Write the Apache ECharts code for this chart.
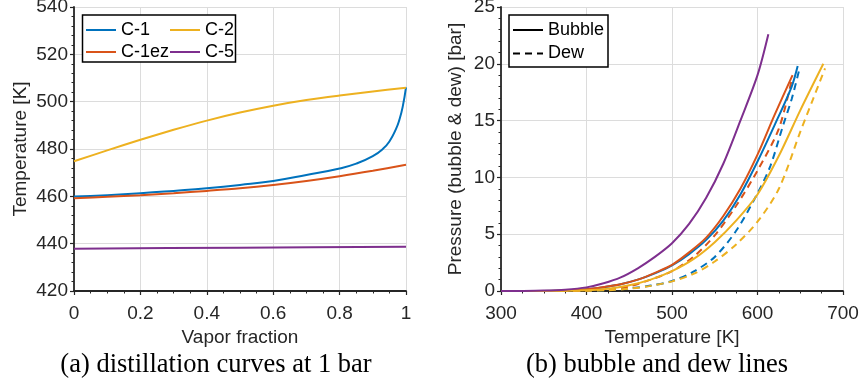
<!DOCTYPE html>
<html>
<head>
<meta charset="utf-8">
<script src="https://cdn.jsdelivr.net/npm/echarts@6/dist/echarts.min.js"></script>
<style>
  html, body { margin: 0; padding: 0; background: #fff; }
  #chart { width: 859px; height: 385px; }
</style>
</head>
<body>
<div id="chart"></div>
<script>
// (a) distillation curves at 1 bar
const fracGrid = [0, 0.1, 0.2, 0.3, 0.4, 0.5, 0.6, 0.7, 0.8, 0.9, 1.0];
const fracC1 = [0, 0.1, 0.2, 0.3, 0.4, 0.5, 0.6, 0.7, 0.8, 0.85, 0.9, 0.93, 0.95, 0.97, 0.98, 0.99, 1.0];
const tempC1 = [459.9, 460.5, 461.3, 462.3, 463.4, 464.8, 466.5, 469.0, 471.8, 473.8, 477.0, 480.0, 483.2, 488.5, 492.3, 497.8, 506.0];
const tempC1ez = [459.2, 459.8, 460.5, 461.3, 462.3, 463.4, 464.8, 466.5, 468.5, 470.8, 473.3];
const tempC2 = [474.8, 479.4, 483.9, 488.1, 492.0, 495.4, 498.3, 500.7, 502.6, 504.3, 505.9];
const fracC5 = [0, 0.5, 1.0];
const tempC5 = [437.9, 438.3, 438.7];

// (b) bubble and dew lines
const c1BubT = [300, 350, 375, 400, 420, 440, 460, 480, 500, 520, 540, 560, 580, 600, 620, 640, 647];
const c1BubP = [0, 0.01, 0.05, 0.15, 0.34, 0.6, 1.0, 1.55, 2.25, 3.25, 4.5, 6.2, 8.5, 11.4, 14.6, 18.0, 19.8];
const c1ezBubT = [300, 350, 375, 400, 420, 440, 460, 480, 500, 520, 540, 560, 580, 600, 620, 641];
const c1ezBubP = [0, 0.01, 0.05, 0.15, 0.35, 0.6, 1.0, 1.6, 2.3, 3.4, 4.7, 6.6, 9.0, 12.0, 15.5, 19.0];
const c2BubT = [300, 350, 400, 425, 450, 475, 500, 525, 550, 575, 600, 625, 650, 677];
const c2BubP = [0, 0.005, 0.07, 0.2, 0.5, 1.0, 1.75, 2.8, 4.3, 6.2, 8.5, 11.9, 15.9, 20.0];
const c5BubT = [300, 325, 350, 375, 400, 420, 440, 460, 480, 500, 520, 540, 560, 580, 600, 612.7];
const c5BubP = [0, 0.01, 0.04, 0.12, 0.32, 0.68, 1.2, 2.0, 3.0, 4.2, 5.9, 8.2, 11.2, 15.0, 19.0, 22.6];
const c1DewT = [300, 400, 425, 450, 475, 500, 525, 550, 575, 600, 615, 630, 640, 649.5];
const c1DewP = [0, 0.02, 0.08, 0.22, 0.48, 0.88, 1.7, 3.0, 5.3, 8.6, 11.0, 14.6, 16.9, 19.7];
const c1ezDewT = [300, 375, 400, 425, 450, 475, 500, 525, 550, 575, 600, 625, 640];
const c1ezDewP = [0, 0.01, 0.04, 0.15, 0.4, 1.0, 1.75, 3.0, 4.9, 7.5, 10.6, 14.3, 18.6];
const c2DewT = [300, 400, 425, 450, 475, 500, 525, 550, 575, 600, 625, 650, 665, 679];
const c2DewP = [0, 0.02, 0.07, 0.2, 0.45, 0.85, 1.5, 2.6, 4.1, 6.1, 9.0, 14.0, 16.9, 19.6];

const xTicksA = [0, 1, 0.2];
const yTicksA = [420, 540, 20];
const xTicksB = [300, 700, 100];
const yTicksB = [0, 25, 5];

const BLUE = '#0072BD', ORANGE = '#D95319', YELLOW = '#EDB120', PURPLE = '#7E2F8E';
const INK = '#262626';

function zip(xs, ys) {
    return xs.map(function (x, i) { return [x, ys[i]]; });
}

function makeAxis(grid, ticks, name, gap, minorSplit, labelMargin) {
    return {
        gridIndex: grid,
        type: 'value',
        min: ticks[0], max: ticks[1], interval: ticks[2],
        name: name,
        nameLocation: 'middle',
        nameGap: gap,
        nameTextStyle: { fontSize: 19, color: INK, fontFamily: 'Liberation Sans' },
        axisLine: { show: true, onZero: false, lineStyle: { color: INK, width: 1.8 } },
        axisTick: { show: true, length: 4, lineStyle: { color: INK, width: 1.2 } },
        minorTick: { show: true, splitNumber: minorSplit, length: 2.5, lineStyle: { color: INK, width: 1 } },
        splitLine: { show: true, lineStyle: { color: '#dcdcdc', width: 1 } },
        axisLabel: { fontSize: 19, color: INK, margin: labelMargin, showMinLabel: true, showMaxLabel: true,
                     fontFamily: 'Liberation Sans' }
    };
}

function curve(name, xi, yi, data, color, dashed, smooth) {
    return {
        name: name,
        type: 'line',
        xAxisIndex: xi, yAxisIndex: yi,
        data: data,
        symbol: 'none',
        smooth: smooth || 0.3,
        clip: true,
        lineStyle: { color: color, width: 2, type: dashed ? [7, 5] : 'solid' },
        itemStyle: { color: color }
    };
}

const chart = echarts.init(document.getElementById('chart'));
const legendText = { fontSize: 18, color: '#000', fontFamily: 'Liberation Sans' };
const legendBase = { orient: 'vertical', padding: 0, itemWidth: 30, itemHeight: 12,
                     itemStyle: { opacity: 0 }, textStyle: legendText };

chart.setOption({
    animation: false,
    textStyle: { fontFamily: 'Liberation Sans' },
    title: [
        { text: '(a) distillation curves at 1 bar', left: 211, top: 347, textAlign: 'center',
          textStyle: { fontFamily: 'Liberation Serif', fontSize: 26.5, fontWeight: 'normal', color: '#000' } },
        { text: '(b) bubble and dew lines', left: 652, top: 347, textAlign: 'center',
          textStyle: { fontFamily: 'Liberation Serif', fontSize: 26.5, fontWeight: 'normal', color: '#000' } }
    ],
    grid: [
        { left: 74, top: 7, width: 332, height: 284, outerBoundsMode: 'none' },
        { left: 501, top: 7, width: 342, height: 284, outerBoundsMode: 'none' }
    ],
    xAxis: [
        makeAxis(0, xTicksA, 'Vapor fraction', 37, 4, 13),
        makeAxis(1, xTicksB, 'Temperature [K]', 37, 4, 13)
    ],
    yAxis: [
        makeAxis(0, yTicksA, 'Temperature [K]', 44, 5, 6),
        makeAxis(1, yTicksB, 'Pressure (bubble & dew) [bar]', 36, 5, 6)
    ],
    legend: [
        Object.assign({ data: ['C-1', 'C-1ez'], left: 85, top: 21, itemGap: 4 }, legendBase),
        Object.assign({ data: ['C-2', 'C-5'], left: 169, top: 21, itemGap: 4 }, legendBase),
        Object.assign({ data: ['Bubble', 'Dew'], left: 512, top: 21, itemGap: 5.5 }, legendBase)
    ],
    graphic: [
        { type: 'rect', z: 3, shape: { x: 82.5, y: 15, width: 153, height: 47 },
          style: { fill: '#fff', stroke: '#000', lineWidth: 1.5 } },
        { type: 'rect', z: 3, shape: { x: 509, y: 15, width: 99, height: 52 },
          style: { fill: '#fff', stroke: '#000', lineWidth: 1.5 } }
    ],
    series: [
        curve('C-1', 0, 0, zip(fracC1, tempC1), BLUE, false, 0.5),
        curve('C-1ez', 0, 0, zip(fracGrid, tempC1ez), ORANGE, false),
        curve('C-2', 0, 0, zip(fracGrid, tempC2), YELLOW, false),
        curve('C-5', 0, 0, zip(fracC5, tempC5), PURPLE, false),

        curve('C-1 dew', 1, 1, zip(c1DewT, c1DewP), BLUE, true),
        curve('C-1ez dew', 1, 1, zip(c1ezDewT, c1ezDewP), ORANGE, true),
        curve('C-2 dew', 1, 1, zip(c2DewT, c2DewP), YELLOW, true),
        curve('C-1 bubble', 1, 1, zip(c1BubT, c1BubP), BLUE, false),
        curve('C-1ez bubble', 1, 1, zip(c1ezBubT, c1ezBubP), ORANGE, false),
        curve('C-2 bubble', 1, 1, zip(c2BubT, c2BubP), YELLOW, false),
        curve('C-5 bubble', 1, 1, zip(c5BubT, c5BubP), PURPLE, false),

        curve('Bubble', 1, 1, [], '#000', false),
        curve('Dew', 1, 1, [], '#000', true)
    ]
});
</script>
</body>
</html>
